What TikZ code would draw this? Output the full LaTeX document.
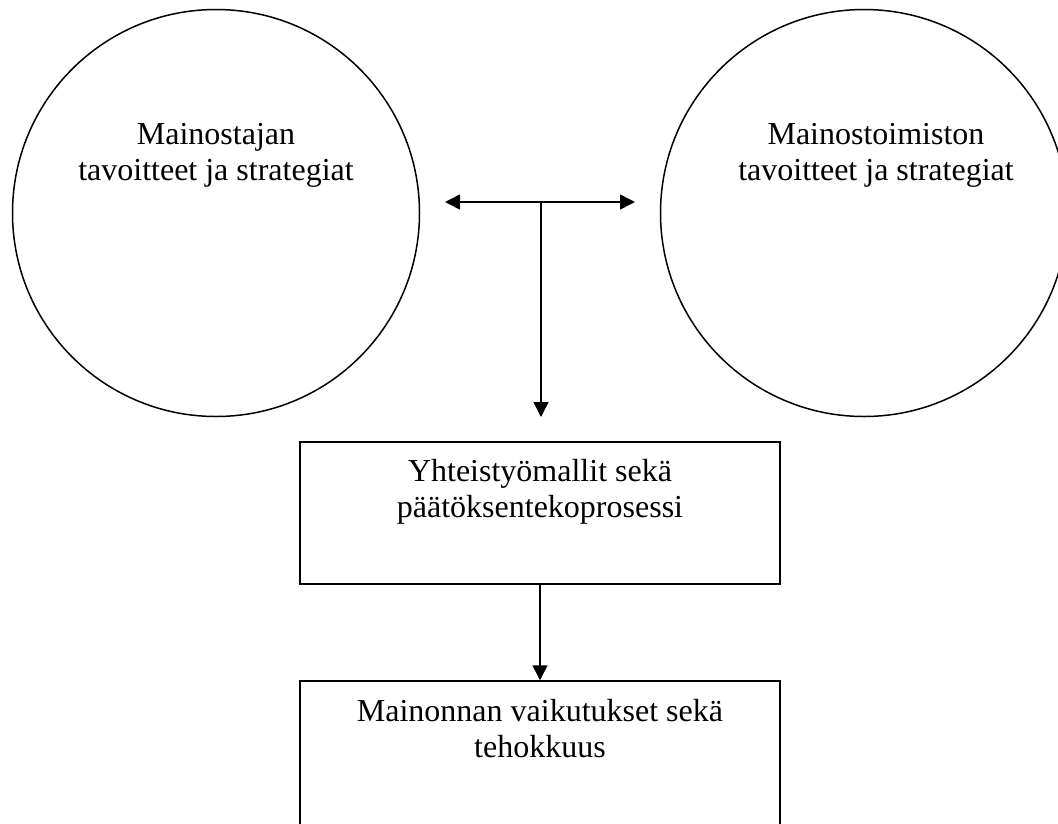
\documentclass[tikz,border=0pt]{standalone}
\usepackage{fontspec}
\setmainfont{Liberation Serif}
\usetikzlibrary{arrows.meta}
\tikzset{
  ring/.style={draw, circle, line width=1.5pt, inner sep=0pt, minimum size=407pt},
  stepbox/.style={draw, rectangle, line width=1.5pt, inner sep=0pt, minimum width=480pt},
  lbl/.style={align=center, font=\fontsize{32}{36}\selectfont, inner sep=0pt},
  conn/.style={line width=1.5pt, -{Triangle[length=15pt,width=15pt]}},
  dconn/.style={line width=1.5pt, {Triangle[length=15pt,width=15pt]}-{Triangle[length=15pt,width=15pt]}}
}
\begin{document}
\begin{tikzpicture}[x=1pt,y=-1pt]
\useasboundingbox (0,0) rectangle (1058,823);
\clip (0,0) rectangle (1058,823);
\fill[white] (0,0) rectangle (1058,823);
\node[ring] (cL) at (216,213) {};
\node[ring] (cR) at (864,213) {};
\node[lbl] (tL) at (216,155) {Mainostajan\\tavoitteet ja strategiat};
\node[lbl] (tR) at (876,155) {Mainostoimiston\\tavoitteet ja strategiat};
\node[stepbox, minimum height=142pt] (b1) at (540,513) {};
\node[lbl] (t1) at (540,492) {Yhteistyömallit sekä\\päätöksentekoprosessi};
\node[stepbox, minimum height=220pt] (b2) at (540,791) {};
\node[lbl] (t2) at (540,728.5) {Mainonnan vaikutukset sekä\\tehokkuus};
\coordinate (aL) at (445,202);
\coordinate (aR) at (635,202);
\coordinate (aM) at (541,202);
\coordinate (aD) at (541,417);
\draw[dconn] (aL) -- (aR);
\draw[conn] (aM) -- (aD);
\draw[conn] (b1.south) -- (b2.north);
\end{tikzpicture}
\end{document}
